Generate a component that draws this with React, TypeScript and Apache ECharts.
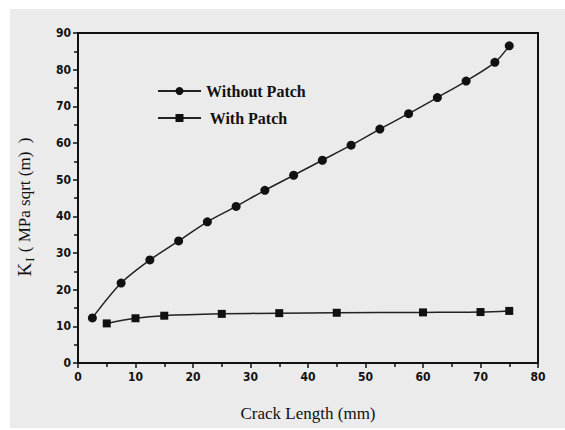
import React, { useEffect, useRef } from "react";
import * as echarts from "echarts";

const withoutX = [2.5, 7.5, 12.5, 17.5, 22.5, 27.5, 32.5, 37.5, 42.5, 47.5, 52.5, 57.5, 62.5, 67.5, 72.5, 75];
const withoutY = [12.3, 21.8, 28.1, 33.3, 38.5, 42.7, 47.1, 51.2, 55.3, 59.4, 63.8, 68.0, 72.4, 76.9, 82.0, 86.5];
const withX = [5, 10, 15, 25, 35, 45, 60, 70, 75];
const withY = [10.8, 12.2, 12.9, 13.4, 13.6, 13.7, 13.8, 13.9, 14.2];
const xTicks = [0, 80, 10];
const yTicks = [0, 90, 10];

const numFont = "'DejaVu Sans Condensed', 'Liberation Sans Narrow', 'Liberation Sans', Arial, sans-serif";
const serif = "'Liberation Serif', 'Times New Roman', serif";

export default function App() {
  const ref = useRef<HTMLDivElement>(null);
  useEffect(() => {
    if (!ref.current) return;
    const chart = echarts.init(ref.current, undefined, { renderer: "svg" });
    const axisCommon = {
      axisLine: { show: true, onZero: false, lineStyle: { color: "#111", width: 2 } },
      axisTick: { show: true, inside: false, length: 5, lineStyle: { color: "#111", width: 1.5 } },
      minorTick: { show: true, splitNumber: 2, length: 4, lineStyle: { color: "#111", width: 1.5 } },
      splitLine: { show: false },
    };
    chart.setOption({
      animation: false,
      backgroundColor: "#ffffff",
      graphic: [
        {
          type: "rect",
          z: -10,
          silent: true,
          shape: { x: 10, y: 9, width: 555, height: 419 },
          style: { fill: "#ebebeb" },
        },
      ],
      grid: {
        left: 78,
        top: 33,
        width: 460,
        height: 330,
        show: true,
        borderColor: "#111",
        borderWidth: 2,
        backgroundColor: "transparent",
      },
      legend: {
        orient: "vertical",
        left: 152,
        top: 78,
        itemWidth: 43,
        itemHeight: 10,
        itemGap: 11,
        data: ["Without Patch", "With Patch"],
        formatter: (n: string) => (n === "With Patch" ? " " + n : n),
        textStyle: { fontFamily: serif, fontSize: 16, color: "#111", fontWeight: "bold" },
      },
      xAxis: {
        type: "value",
        min: xTicks[0],
        max: xTicks[1],
        interval: xTicks[2],
        ...axisCommon,
        axisLabel: { margin: 8, fontFamily: numFont, fontSize: 12, fontWeight: "bold", color: "#111" },
        name: "Crack Length (mm)",
        nameLocation: "middle",
        nameGap: 42,
        nameTextStyle: { fontFamily: serif, fontSize: 17, color: "#111" },
      },
      yAxis: {
        type: "value",
        min: yTicks[0],
        max: yTicks[1],
        interval: yTicks[2],
        ...axisCommon,
        axisLabel: { margin: 7, fontFamily: numFont, fontSize: 12, fontWeight: "bold", color: "#111" },
        name: "{k|K}{s|I}{n| ( MPa sqrt (m)  )}",
        nameLocation: "middle",
        nameGap: 42,
        nameRotate: 90,
        nameTextStyle: {
          fontFamily: serif,
          fontSize: 17,
          color: "#111",
          padding: [0, 18, 0, 0],
          rich: {
            k: { fontFamily: serif, fontSize: 19, color: "#111" },
            s: { fontFamily: serif, fontSize: 13, color: "#111", padding: [11, 1, 0, 1] },
            n: { fontFamily: serif, fontSize: 17, color: "#111" },
          },
        },
      },
      series: [
        {
          name: "Without Patch",
          type: "line",
          smooth: 0.3,
          data: withoutX.map((x, i) => [x, withoutY[i]]),
          symbol: "circle",
          symbolSize: 9,
          itemStyle: { color: "#111" },
          lineStyle: { color: "#222", width: 1.5 },
        },
        {
          name: "With Patch",
          type: "line",
          smooth: 0.3,
          data: withX.map((x, i) => [x, withY[i]]),
          symbol: "rect",
          symbolSize: 8,
          itemStyle: { color: "#111" },
          lineStyle: { color: "#222", width: 1.5 },
        },
      ],
    });
    return () => chart.dispose();
  }, []);
  return (
    <div
      ref={ref}
      style={{ position: "fixed", left: 0, top: 0, width: 565, height: 430 }}
    />
  );
}
